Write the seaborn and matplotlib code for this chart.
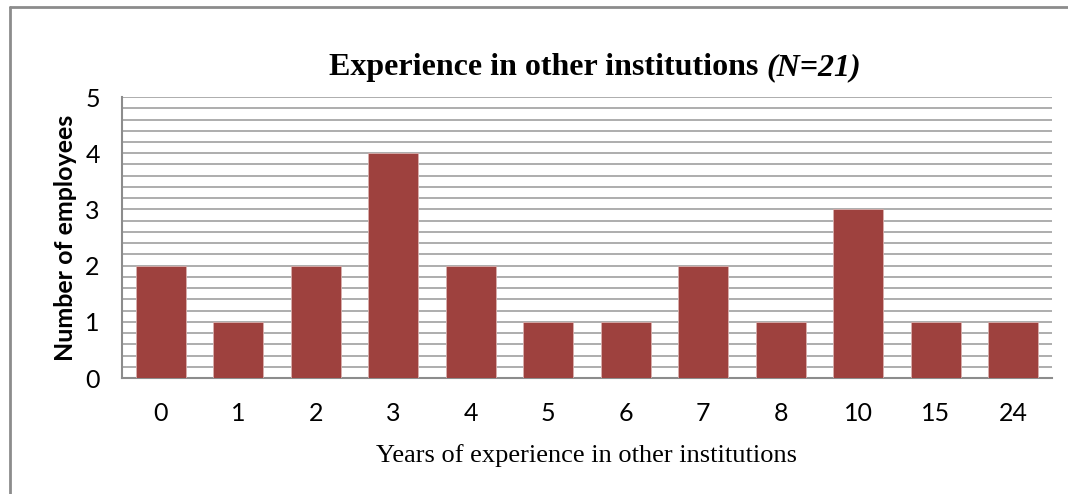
import numpy as np
import pandas as pd
import matplotlib
matplotlib.use("Agg")
import matplotlib.pyplot as plt
from matplotlib.lines import Line2D
import seaborn as sns

# Data
years = ["0", "1", "2", "3", "4", "5", "6", "7", "8", "10", "15", "24"]
employees = [2, 1, 2, 4, 2, 1, 1, 2, 1, 3, 1, 1]

df = pd.DataFrame({"years": years, "employees": employees})

sns.set_style("white")
plt.rcParams["font.family"] = ["Lato", "DejaVu Sans"]
plt.rcParams["text.color"] = "black"
plt.rcParams["axes.labelcolor"] = "black"
plt.rcParams["xtick.color"] = "black"
plt.rcParams["ytick.color"] = "black"

fig = plt.figure(figsize=(10.68, 4.94), dpi=100)
ax = fig.add_axes([0.1142, 0.2348, 0.8708, 0.5688])

sns.barplot(data=df, x="years", y="employees", order=years, color="#9E413E",
            saturation=1, width=0.645, ax=ax, zorder=3, edgecolor="#D9B0AE", linewidth=0.6)

ax.set_ylim(0, 5)
ax.set_xlim(-0.5, len(years) - 0.5)
ax.set_yticks(range(0, 6))
ax.set_yticks(np.arange(0, 5.01, 0.2), minor=True)
ax.grid(which="both", axis="y", color="#ADADAD", lw=1.4, zorder=0)
ax.set_axisbelow(True)
ax.tick_params(axis="y", which="both", length=0, pad=16, labelsize=18)
ax.tick_params(axis="x", length=0, pad=17, labelsize=18)

for s in ["top", "right"]:
    ax.spines[s].set_visible(False)
ax.spines["left"].set_color("#8C8C8C")
ax.spines["bottom"].set_color("#8C8C8C")
ax.spines["left"].set_linewidth(1.5)
ax.spines["bottom"].set_linewidth(1.5)

ax.set_ylabel("Number of employees", fontsize=18, fontweight="bold", labelpad=6)
ax.set_xlabel("Years of experience in other institutions",
              family="Liberation Serif", fontsize=19, labelpad=14)

# Title: bold part + bold italic part, centered together
t1 = fig.text(0, 1 - 68 / 494, "Experience in other institutions ",
              family="Liberation Serif", fontweight="bold", fontsize=23, va="center")
t2 = fig.text(0, 1 - 68 / 494, "(N=21)", family="Liberation Serif",
              fontweight="bold", style="italic", fontsize=23, va="center")
fig.canvas.draw()
r = fig.canvas.get_renderer()
w1 = t1.get_window_extent(r).width
w2 = t2.get_window_extent(r).width
x0 = 595 - (w1 + w2) / 2
t1.set_x(x0 / 1068)
t2.set_x((x0 + w1) / 1068)

# Outer frame from the source document
fig.add_artist(Line2D([10 / 1068, 10 / 1068], [0, 1 - 7 / 494], color="#8C8C8C", lw=2))
fig.add_artist(Line2D([10 / 1068, 1], [1 - 7 / 494, 1 - 7 / 494], color="#8C8C8C", lw=2))

fig.savefig("out.png", dpi=100)
